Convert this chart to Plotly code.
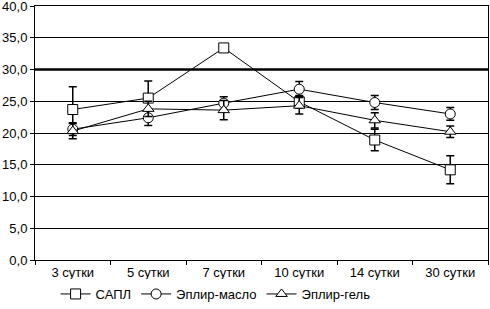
import plotly.graph_objects as go

categories = ["3 сутки", "5 сутки", "7 сутки", "10 сутки", "14 сутки", "30 сутки"]
sapl = [23.7, 25.5, 33.4, 24.9, 18.9, 14.2]
sapl_err = [3.6, 2.7, 0.3, 1.0, 1.7, 2.2]
oil = [20.6, 22.4, 24.7, 26.9, 24.8, 23.0]
oil_err = [1.0, 1.2, 1.0, 1.2, 1.1, 1.0]
gel = [20.3, 23.8, 23.6, 24.3, 22.0, 20.2]
gel_err = [1.2, 1.2, 1.5, 1.3, 1.2, 0.9]
y_ticks = [0, 5, 10, 15, 20, 25, 30, 35, 40]
ref_line = 30

fig = go.Figure()
series = [
    ("САПЛ", sapl, sapl_err, "square"),
    ("Эплир-масло", oil, oil_err, "circle"),
    ("Эплир-гель", gel, gel_err, "triangle-up"),
]
for name, vals, err, sym in series:
    fig.add_trace(go.Scatter(
        x=categories, y=vals, name=name, mode="lines+markers",
        line=dict(color="black", width=1),
        marker=dict(symbol=sym, size=10, color="white",
                    line=dict(color="black", width=1)),
        error_y=dict(type="data", array=err, visible=True,
                     color="black", thickness=1.5, width=4),
    ))

fig.add_shape(type="line", xref="paper", x0=0, x1=1, yref="y",
              y0=ref_line, y1=ref_line, line=dict(color="black", width=2.5),
              layer="below")

fig.update_layout(
    width=490, height=309,
    margin=dict(l=35, r=2, t=6, b=49, autoexpand=False),
    paper_bgcolor="white", plot_bgcolor="white",
    separators=", ",
    font=dict(family="Liberation Sans, Arial, sans-serif", size=13, color="black"),
    showlegend=True,
    legend=dict(orientation="h", x=0.44, xanchor="center", xref="container",
                y=15, yref="container", yanchor="middle",
                font=dict(size=13), itemwidth=30, tracegroupgap=0),
    xaxis=dict(type="category", showgrid=False, showline=True, linecolor="black",
               linewidth=1, mirror=True, ticks="outside", tickson="boundaries",
               ticklen=4, tickcolor="black", range=[-0.5, 5.5], automargin=False),
    yaxis=dict(range=[0, 40], tickvals=y_ticks, tickformat=".1f",
               showgrid=True, gridcolor="black", gridwidth=1,
               showline=True, linecolor="black", linewidth=1, mirror=True,
               ticks="outside", ticklen=4, tickcolor="black", zeroline=False,
               automargin=False, ticklabeloverflow="allow"),
)

fig.write_html("out.html", config={"displayModeBar": False},
               post_script="document.body.style.margin='0';")
